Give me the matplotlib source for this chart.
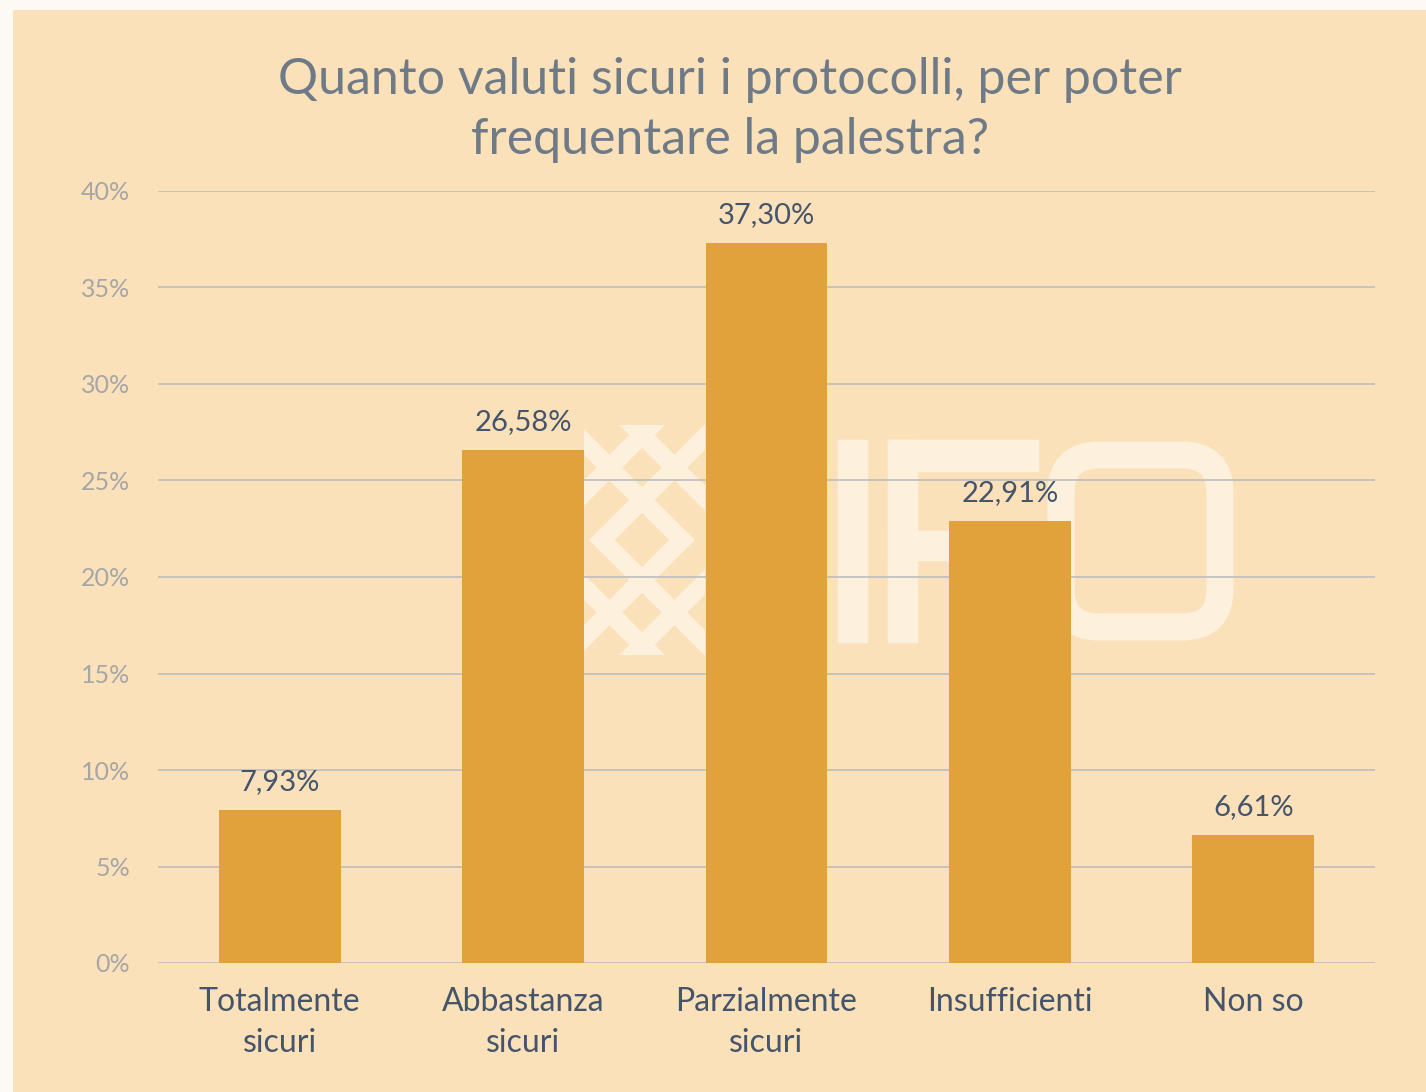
# survey chart: perceived safety of gym protocols

import numpy as np
import matplotlib.pyplot as plt
import matplotlib.transforms as mtransforms
from matplotlib.lines import Line2D
from matplotlib.patches import Rectangle, FancyBboxPatch

categories = ["Totalmente\nsicuri", "Abbastanza\nsicuri", "Parzialmente\nsicuri", "Insufficienti", "Non so"]
values = [7.93, 26.58, 37.30, 22.91, 6.61]
yticks = [0, 5, 10, 15, 20, 25, 30, 35, 40]
title = "Quanto valuti sicuri i protocolli, per poter\nfrequentare la palestra?"

W, H = 1426, 1092
peach = "#FBE1BA"
cream = "#FDF1DE"
bar_color = "#E2A23B"
dark = "#44546A"

plt.rcParams['font.family'] = ['Lato', 'DejaVu Sans']

fig = plt.figure(figsize=(W / 100, H / 100), dpi=100, facecolor="#FDF9F4")
# pixel coords (y down) -> figure
px = mtransforms.Affine2D().scale(1 / W, -1 / H).translate(0, 1) + fig.transFigure

fig.add_artist(Rectangle((13, 10), W - 13, H - 10, transform=px, facecolor=peach,
                         edgecolor="none", zorder=-3))

# watermark logo (decoration only): diagonal bands, some cut at the big diamond
clip = Rectangle((584, 425), 121, 230, transform=px, facecolor="none", edgecolor="none")
bands = [(435, 1, 500, 800), (435, -1, 500, 800),
         (500, 1, 540, 682), (500, -1, 602, 760),
         (580, 1, 602, 760), (580, -1, 540, 682),
         (645, 1, 500, 800), (645, -1, 500, 800)]
for c, sign, x0, x1 in bands:
    xs = np.array([x0, x1])
    ln = Line2D(xs, c + sign * (xs - 642), transform=px, color=cream,
                lw=13, solid_capstyle="projecting", zorder=-2)
    fig.add_artist(ln)
    ln.set_clip_path(clip)
fig.add_artist(Rectangle((838, 440), 29, 202, transform=px, color=cream, zorder=-2))
fig.add_artist(Rectangle((888, 440), 29, 202, transform=px, color=cream, zorder=-2))
fig.add_artist(Rectangle((888, 440), 150, 31, transform=px, color=cream, zorder=-2))
fig.add_artist(Rectangle((888, 531), 110, 29, transform=px, color=cream, zorder=-2))
fig.add_artist(FancyBboxPatch((1061, 455), 159, 172, boxstyle="round,pad=0,rounding_size=38",
                              transform=px, facecolor="none", edgecolor=cream,
                              lw=19.5, zorder=-2))

ax = fig.add_axes([158 / W, 129 / H, 1217 / W, 772 / H])
ax.patch.set_alpha(0)

x = np.arange(len(categories))
bars = ax.bar(x, values, width=0.5, color=bar_color, zorder=3)
for xi, v in zip(x, values):
    ax.annotate(f"{v:.2f}%".replace(".", ","), (xi, v), xytext=(0, 11),
                textcoords="offset points", ha="center", va="bottom",
                fontsize=21, color=dark)

ax.set_xlim(-0.5, len(categories) - 0.5)
ax.set_ylim(0, 40)
ax.set_yticks(yticks)
ax.set_yticklabels([f"{t}%" for t in yticks])
ax.set_xticks(x)
ax.set_xticklabels(categories, linespacing=1.48)
ax.tick_params(axis="y", length=0, pad=20, labelsize=18, labelcolor="#A6A6A6")
ax.tick_params(axis="x", length=0, pad=17, labelsize=23, labelcolor=dark)
ax.grid(axis="y", color="#BDBDBD", lw=1.2, zorder=0)
ax.set_axisbelow(True)
for sp in ax.spines.values():
    sp.set_visible(False)

fig.text(730 / W, 1 - 110 / H, title, ha="center", va="center", fontsize=36,
         color="#6E7A86", linespacing=1.4)

fig.savefig("out.png", dpi=100)
